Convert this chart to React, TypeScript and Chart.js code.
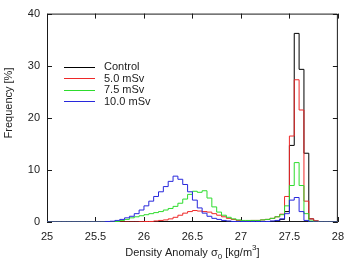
import React, { useEffect, useRef } from "react";
import { Chart, registerables } from "chart.js";

Chart.register(...registerables);

// Histogram bins: 60 bins of width 0.05 kg/m^3 from 25.00 to 28.00 (left edges)
const BIN_START = 25.0;
const BIN_WIDTH = 0.05;
const BIN_COUNT = 60;
const binEdges: number[] = Array.from({ length: BIN_COUNT }, (_, i) =>
  Math.round((BIN_START + i * BIN_WIDTH) * 100) / 100
);

// Frequency [%] per bin
const control: number[] = [
  0, 0, 0, 0, 0, 0, 0, 0, 0, 0,
  0, 0, 0, 0, 0, 0, 0, 0, 0, 0,
  0, 0, 0, 0, 0, 0, 0, 0, 0, 0,
  0, 0, 0, 0, 0, 0, 0, 0, 0, 0,
  0, 0, 0, 0, 0.05, 0.1, 0.1, 0.2, 0.5, 2.0,
  14.7, 36.2, 29.3, 13.2, 0.6, 0.2, 0, 0, 0, 0,
];

const sv50: number[] = [
  0, 0, 0, 0, 0, 0, 0, 0, 0, 0,
  0, 0, 0, 0, 0, 0, 0, 0, 0, 0.05,
  0.1, 0.1, 0.2, 0.3, 0.4, 0.6, 0.9, 1.3, 1.7, 2.0,
  2.2, 2.1, 2.0, 1.9, 1.6, 1.3, 1.0, 0.7, 0.5, 0.3,
  0.2, 0.2, 0.3, 0.3, 0.4, 0.5, 0.7, 1.0, 1.5, 4.9,
  16.5, 27.3, 21.5, 4.0, 0.6, 0.2, 0, 0, 0, 0,
];

const sv75: number[] = [
  0, 0, 0, 0, 0, 0, 0, 0, 0, 0,
  0, 0, 0, 0, 0.1, 0.3, 0.5, 0.8, 1.0, 1.2,
  1.4, 1.6, 1.8, 2.0, 2.3, 2.6, 3.0, 3.6, 4.4, 5.3,
  5.9, 5.7, 6.0, 4.6, 2.9, 1.9, 1.3, 0.9, 0.6, 0.4,
  0.3, 0.3, 0.3, 0.3, 0.4, 0.5, 0.7, 1.0, 1.4, 3.1,
  7.0, 11.4, 7.0, 1.6, 0.2, 0, 0, 0, 0, 0,
];

const sv100: number[] = [
  0, 0, 0, 0, 0, 0, 0, 0, 0, 0,
  0, 0, 0.1, 0.15, 0.3, 0.5, 0.8, 1.1, 1.6, 2.3,
  3.1, 4.0, 4.9, 5.8, 6.8, 7.8, 8.8, 8.2, 7.2, 5.8,
  4.2, 2.7, 1.7, 1.1, 0.7, 0.5, 0.3, 0.2, 0.1, 0.1,
  0.1, 0.1, 0.1, 0.1, 0.1, 0.1, 0.2, 0.3, 0.6, 1.6,
  4.2, 4.7, 2.0, 0.3, 0, 0, 0, 0, 0, 0,
];

const seriesLabels = ["Control", "5.0 mSv", "7.5 mSv", "10.0 mSv"];
const seriesColors = ["#000000", "#ee2828", "#2ddc2d", "#2828dc"];
const seriesValues = [control, sv50, sv75, sv100];

const X_MIN = 25;
const X_MAX = 28;
const X_STEP = 0.5;
const Y_MIN = 0;
const Y_MAX = 40;
const Y_STEP = 10;

const FONT_FAMILY = "'Liberation Sans', Arial, Helvetica, sans-serif";
const TEXT_COLOR = "#222222";

// Step outline: each bin holds its value from its left edge to the next edge
function histogramPoints(values: number[]) {
  const pts = binEdges.map((e, i) => ({ x: e, y: values[i] }));
  pts.push({ x: Math.round((BIN_START + BIN_COUNT * BIN_WIDTH) * 100) / 100, y: 0 });
  return pts;
}

// Border box with inward tick marks on all four sides
const framePlugin = {
  id: "frame",
  beforeDatasetsDraw(chart: any) {
    const { ctx, chartArea } = chart;
    const xs = chart.scales.x;
    const ys = chart.scales.y;
    const L = chartArea.left;
    const R = chartArea.right;
    const T = chartArea.top;
    const B = chartArea.bottom;
    const tick = 5;
    ctx.save();
    ctx.strokeStyle = "#1a1a1a";
    ctx.lineWidth = 1;
    ctx.beginPath();
    ctx.rect(L + 0.5, T + 0.5, R - L - 1, B - T - 1);
    for (let v = X_MIN; v <= X_MAX + 1e-9; v += X_STEP) {
      const px = Math.round(xs.getPixelForValue(v)) + 0.5;
      ctx.moveTo(px, B);
      ctx.lineTo(px, B - tick);
      ctx.moveTo(px, T);
      ctx.lineTo(px, T + tick);
    }
    for (let v = Y_MIN; v <= Y_MAX + 1e-9; v += Y_STEP) {
      const py = Math.round(ys.getPixelForValue(v)) + 0.5;
      ctx.moveTo(L, py);
      ctx.lineTo(L + tick, py);
      ctx.moveTo(R, py);
      ctx.lineTo(R - tick, py);
    }
    ctx.stroke();
    ctx.restore();
  },
};

// Key placed inside the plot, upper left
const keyPlugin = {
  id: "key",
  afterDatasetsDraw(chart: any) {
    const { ctx, chartArea } = chart;
    const x0 = chartArea.left + 17;
    const x1 = chartArea.left + 48;
    const tx = chartArea.left + 57;
    const y0 = chartArea.top + 53.3;
    const dy = 11.5;
    ctx.save();
    ctx.font = `11px ${FONT_FAMILY}`;
    ctx.textBaseline = "middle";
    ctx.textAlign = "left";
    seriesLabels.forEach((label, i) => {
      const y = Math.round(y0 + i * dy) + 0.5;
      ctx.strokeStyle = seriesColors[i];
      ctx.lineWidth = 1;
      ctx.beginPath();
      ctx.moveTo(x0, y);
      ctx.lineTo(x1, y);
      ctx.stroke();
      ctx.fillStyle = TEXT_COLOR;
      ctx.fillText(label, tx, y0 + i * dy + 0.5);
    });
    ctx.restore();
  },
};

// Axis titles, the x title with sub- and superscripts
const titlesPlugin = {
  id: "titles",
  afterDraw(chart: any) {
    const { ctx, chartArea } = chart;
    ctx.save();
    ctx.fillStyle = TEXT_COLOR;
    const big = `11px ${FONT_FAMILY}`;
    const small = `8px ${FONT_FAMILY}`;
    const parts = [
      { t: "Density Anomaly \u03c3", f: big, dy: 0 },
      { t: "0", f: small, dy: 3 },
      { t: " [kg/m", f: big, dy: 0 },
      { t: "3", f: small, dy: -6 },
      { t: "]", f: big, dy: 0 },
    ];
    let total = 0;
    for (const p of parts) {
      ctx.font = p.f;
      total += ctx.measureText(p.t).width;
    }
    const cx = (chartArea.left + chartArea.right) / 2;
    let x = cx - total / 2;
    const baseY = 256;
    ctx.textBaseline = "alphabetic";
    ctx.textAlign = "left";
    for (const p of parts) {
      ctx.font = p.f;
      ctx.fillText(p.t, x, baseY + p.dy);
      x += ctx.measureText(p.t).width;
    }

    ctx.font = big;
    ctx.translate(9, 103);
    ctx.rotate(-Math.PI / 2);
    ctx.textAlign = "center";
    ctx.textBaseline = "middle";
    ctx.fillText("Frequency [%]", 0, 0);
    ctx.restore();
  },
};

export default function App() {
  const canvasRef = useRef<HTMLCanvasElement | null>(null);

  useEffect(() => {
    const canvas = canvasRef.current;
    if (!canvas) return;
    const n = seriesLabels.length;
    const chart = new Chart(canvas, {
      type: "line",
      data: {
        datasets: seriesLabels.map((label, i) => ({
          label,
          data: histogramPoints(seriesValues[i]),
          borderColor: seriesColors[i],
          backgroundColor: seriesColors[i],
          borderWidth: 1,
          pointRadius: 0,
          fill: false,
          stepped: "before" as const,
          tension: 0,
          order: n - i,
        })),
      },
      options: {
        responsive: false,
        animation: false,
        devicePixelRatio: 1,
        layout: { padding: { top: 11, right: 12, left: 0, bottom: 0 } },
        plugins: {
          legend: { display: false },
          tooltip: { enabled: false },
        },
        scales: {
          x: {
            type: "linear",
            min: X_MIN,
            max: X_MAX,
            grid: { display: false, drawTicks: false },
            border: { display: false },
            ticks: {
              stepSize: X_STEP,
              padding: 8,
              maxRotation: 0,
              autoSkip: false,
              color: TEXT_COLOR,
              font: { family: FONT_FAMILY, size: 11 },
              callback: (v: any) => String(Math.round(Number(v) * 10) / 10),
            },
            afterFit: (s: any) => {
              s.height = 37;
            },
          },
          y: {
            type: "linear",
            min: Y_MIN,
            max: Y_MAX,
            grid: { display: false, drawTicks: false },
            border: { display: false },
            ticks: {
              stepSize: Y_STEP,
              padding: 7,
              color: TEXT_COLOR,
              font: { family: FONT_FAMILY, size: 11 },
            },
            afterFit: (s: any) => {
              s.width = 47;
            },
          },
        },
      },
      plugins: [framePlugin, keyPlugin, titlesPlugin],
    });
    return () => chart.destroy();
  }, []);

  return (
    <div style={{ position: "fixed", left: 0, top: 0, width: 352, height: 259, background: "#ffffff" }}>
      <canvas ref={canvasRef} width={352} height={259} style={{ width: 352, height: 259, display: "block" }} />
    </div>
  );
}
